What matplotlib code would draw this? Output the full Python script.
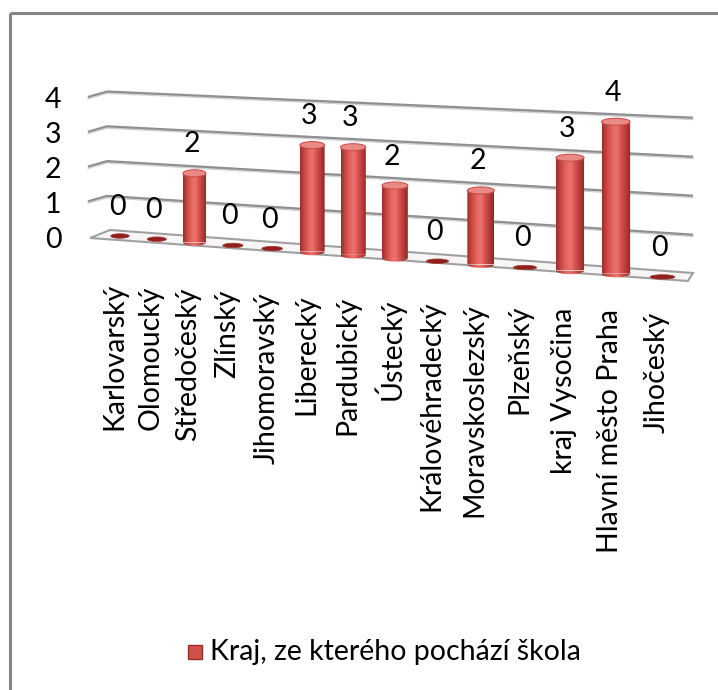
import numpy as np
import matplotlib.pyplot as plt
from matplotlib.patches import Ellipse, Polygon, Rectangle
from matplotlib.colors import LinearSegmentedColormap

regions = ['Karlovarský', 'Olomoucký', 'Středočeský', 'Zlínský', 'Jihomoravský',
           'Liberecký', 'Pardubický', 'Ústecký', 'Královéhradecký', 'Moravskoslezský',
           'Plzeňský', 'kraj Vysočina', 'Hlavní město Praha', 'Jihočeský']
counts = [0, 0, 2, 0, 0, 3, 3, 2, 0, 2, 0, 3, 4, 0]
ticks = [0, 1, 2, 3, 4]
series_name = 'Kraj, ze kterého pochází škola'

plt.rcParams['font.family'] = ['Lato', 'DejaVu Sans']
FS = 20.5

fig = plt.figure(figsize=(7.18, 6.90), dpi=100)
ax = fig.add_axes([0, 0, 1, 1])
ax.set_xlim(0, 718)
ax.set_ylim(690, 0)
ax.axis('off')


# simple perspective of the Excel 3D chart (pixel space)
def bar_x(i):
    return 120 + 36.4 * i + 0.41 * i ** 2


def bar_base(i):
    return 236 + 3.15 * i


def bar_scale(i):
    return 33.8 + 0.35 * i


def bar_w(i):
    return 22 + 0.55 * i


def wall_y(t, v):
    # t = 0 at back-left corner, 1 at right end
    return (231 + 43 * t) - (34.8 + 4.2 * t) * v


wall_l, wall_r, side_x = 107, 693, 88

# chart border
ax.add_patch(Rectangle((9.5, 12.5), 720, 700, fill=False, ec='#868686', lw=2.2))

# floor slab
floor = Polygon([(110, 230), (wall_r, 273), (688, 281), (90, 238)], closed=True,
                fc='#f6f6f6', ec='#a0a0a0', lw=1.5, zorder=2)
ax.add_patch(floor)

# gridlines on the back wall + side kink
for v in ticks[1:]:
    yl = wall_y(0, v)
    yr = wall_y(1, v)
    ax.plot([side_x, wall_l, wall_r], [yl + 5.5, yl, yr], color='#8f8f8f', lw=2.0,
            solid_capstyle='butt', zorder=1)
    ax.plot([side_x, wall_l, wall_r], [yl + 7, yl + 1.5, yr + 1.5], color='#d0d0d0', lw=1.0,
            zorder=1)

# y tick labels
for v in ticks:
    ax.text(53, wall_y(0, v) + 8.5, str(v), fontsize=FS, ha='center', va='center')

cyl = LinearSegmentedColormap.from_list(
    'cyl', ['#9c2d2a', '#c94844', '#e4625e', '#ea7571', '#d7524e', '#b63b38', '#8f2624'])
grad = np.linspace(0, 1, 64).reshape(1, -1)

for i, (name, v) in enumerate(zip(regions, counts)):
    x = bar_x(i)
    yb = bar_base(i)
    w = bar_w(i)
    yt = yb - v * bar_scale(i)
    if v > 0:
        eh = 7
        th = np.linspace(np.pi, 0, 40)
        pts = [(x - w / 2, yt), (x - w / 2, yb)] + \
              [(x - w / 2 * np.cos(a), yb + eh / 2 * np.sin(a)) for a in th] + \
              [(x + w / 2, yb), (x + w / 2, yt)]
        body = Polygon(pts, closed=True, fc='none', ec='none')
        ax.add_patch(body)
        im = ax.imshow(grad, cmap=cyl, extent=(x - w / 2, x + w / 2, yb + eh, yt),
                       aspect='auto', zorder=3, interpolation='bilinear')
        im.set_clip_path(body)
        ax.add_patch(Ellipse((x, yt), w, eh, fc='#e98a86', ec='#c9524e', lw=0.8, zorder=4))
    else:
        ax.add_patch(Ellipse((x, yb), w * 0.85, 4.5, fc='#8e201d', ec='#a33a36', lw=0.5,
                             zorder=4))
    ax.text(x - 3, yt - 29, str(v), fontsize=FS, ha='center', va='center')
    # category label hanging under the floor
    ax.text(x - 6, 283 + 2.2 * i, name, fontsize=FS, rotation=90, ha='center', va='top')

# legend
ax.add_patch(Rectangle((188, 645), 14, 14, fc='#d0504c', ec='#9a2b28', lw=1.0))
ax.text(210, 652, series_name, fontsize=FS, ha='left', va='center')

fig.savefig('out.png', dpi=100)
